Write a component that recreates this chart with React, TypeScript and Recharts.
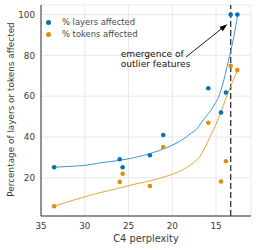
import React from 'react';
import {
  ComposedChart,
  Scatter,
  Line,
  XAxis,
  YAxis,
  CartesianGrid,
  ReferenceLine,
  ReferenceDot,
  Label
} from 'recharts';

// one entry per model
const perplexity = [33.5, 26.0, 25.67, 22.55, 21.03, 15.88, 14.43, 13.86, 13.32, 12.56];
const layersAffected = [25.2, 29.1, 25.2, 31.1, 41.0, 63.9, 52.0, 61.8, 100, 100];
const tokensAffected = [6.1, 18.0, 22.0, 16.0, 35.1, 47.0, 18.2, 28.1, 74.9, 72.8];

// fitted curves
const layersFitX = [33.5, 31.35, 29.8, 28.27, 26.0, 24.46, 22.55, 20.64, 18.74, 17.97, 17.2, 16.45, 15.3, 14.54, 14.1, 13.6, 13.02, 12.5];
const layersFitY = [25.2, 25.7, 26.2, 27.3, 28.6, 29.8, 31.9, 34.8, 39.0, 41.5, 44.0, 48.4, 55.0, 61.5, 68.0, 77.0, 88.0, 100.5];
const tokensFitX = [33.5, 28.3, 26.0, 24.46, 20.64, 18.74, 17.6, 16.83, 15.69, 14.54, 13.78, 13.02, 12.52];
const tokensFitY = [6.1, 12.7, 15.0, 16.7, 20.8, 24.1, 27.3, 30.5, 40.0, 51.0, 60.0, 68.0, 72.8];

const xTicks = [15, 20, 25, 30, 35];
const yTicks = [20, 40, 60, 80, 100];
const emergenceAt = 13.32;

const seriesNames = ['% layers affected', '% tokens affected'];
const BLUE = '#0173b2';
const ORANGE = '#de8f05';
const BLUE_FIT = '#2a8ad0';
const ORANGE_FIT = '#e89a1c';
const TEXT = '#3a3a3a';
const FONT = '"DejaVu Sans", sans-serif';

const toPoints = (xs: number[], ys: number[]) => xs.map((x, i) => ({ x, y: ys[i] }));

const layersPts = toPoints(perplexity, layersAffected);
const tokensPts = toPoints(perplexity, tokensAffected);
const layersFit = toPoints(layersFitX, layersFitY);
const tokensFit = toPoints(tokensFitX, tokensFitY);

const dot = (color: string) => (p: any) => (
  <circle cx={p.cx} cy={p.cy} r={2.3} fill={color} />
);

const Arrow = (props: any) => {
  const { x1, y1, x2, y2 } = props;
  const ang = Math.atan2(y2 - y1, x2 - x1);
  const len = 8;
  const w = 2.8;
  const bx = x2 - len * Math.cos(ang);
  const by = y2 - len * Math.sin(ang);
  const pts = `${x2},${y2} ${bx - w * Math.sin(ang)},${by + w * Math.cos(ang)} ${bx + w * Math.sin(ang)},${by - w * Math.cos(ang)}`;
  return (
    <g>
      <line x1={x1} y1={y1} x2={bx} y2={by} stroke="#000" strokeWidth={0.9} />
      <polygon points={pts} fill="#000" />
    </g>
  );
};

const Note = (p: any) => (
  <text x={p.cx} y={p.cy} fontFamily={FONT} fontSize={9.1} fill="#111">
    <tspan x={p.cx} dy={3.3}>emergence of</tspan>
    <tspan x={p.cx} dy={10.7}>outlier features</tspan>
  </text>
);

export default function App() {
  return (
    <div style={{ position: 'absolute', left: 0, top: 0, width: 257, height: 250, background: '#fff' }}>
      <ComposedChart width={257} height={250} margin={{ top: 5, right: 6, left: 0, bottom: 0 }}>
        <CartesianGrid stroke="#e8e8ef" strokeWidth={1} />
        <XAxis
          dataKey="x"
          type="number"
          domain={[11, 35]}
          reversed
          allowDataOverflow
          ticks={xTicks}
          interval={0}
          height={34}
          tickSize={0}
          tickMargin={7}
          tickLine={false}
          axisLine={{ stroke: '#333', strokeWidth: 1 }}
          tick={{ fontFamily: FONT, fontSize: 8.8, fill: TEXT }}
        >
          <Label
            content={(p: any) => (
              <text
                x={p.viewBox.x + p.viewBox.width / 2}
                y={p.viewBox.y + 25.8}
                textAnchor="middle"
                fontFamily={FONT}
                fontSize={9.8}
                fill={TEXT}
              >
                C4 perplexity
              </text>
            )}
          />
        </XAxis>
        <YAxis
          type="number"
          domain={[1.3, 104.7]}
          allowDataOverflow
          ticks={yTicks}
          interval={0}
          width={41}
          tickSize={0}
          tickMargin={6}
          tickLine={false}
          axisLine={{ stroke: '#333', strokeWidth: 1 }}
          tick={{ fontFamily: FONT, fontSize: 8.8, fill: TEXT }}
        >
          <Label
            content={(p: any) => {
              const cx = 11;
              const cy = p.viewBox.y + p.viewBox.height / 2 - 1;
              return (
                <text
                  x={cx}
                  y={cy}
                  transform={`rotate(-90, ${cx}, ${cy})`}
                  textAnchor="middle"
                  dominantBaseline="central"
                  fontFamily={FONT}
                  fontSize={8.9}
                  fill={TEXT}
                >
                  Percentage of layers or tokens affected
                </text>
              );
            }}
          />
        </YAxis>
        <ReferenceLine x={emergenceAt} stroke="#333" strokeWidth={1.3} strokeDasharray="6 3" />
        <Line data={layersFit} dataKey="y" type="monotone" dot={false} activeDot={false} stroke={BLUE_FIT} strokeWidth={0.9} isAnimationActive={false} />
        <Line data={tokensFit} dataKey="y" type="monotone" dot={false} activeDot={false} stroke={ORANGE_FIT} strokeWidth={0.9} isAnimationActive={false} />
        <Scatter data={layersPts} dataKey="y" name={seriesNames[0]} fill={BLUE} shape={dot(BLUE)} isAnimationActive={false} />
        <Scatter data={tokensPts} dataKey="y" name={seriesNames[1]} fill={ORANGE} shape={dot(ORANGE)} isAnimationActive={false} />
        <ReferenceLine segment={[{ x: 18.43, y: 79.2 }, { x: 13.71, y: 95.3 }]} shape={Arrow} />
        <ReferenceDot x={25.89} y={81.0} r={0} shape={Note} />
      </ComposedChart>
      <div style={{ position: 'absolute', left: 46, top: 16, fontFamily: FONT, fontSize: 8.4, color: '#4a4a4a', lineHeight: '12px' }}>
        {seriesNames.map((name, i) => (
          <div key={name} style={{ display: 'flex', alignItems: 'center', height: 12 }}>
            <span style={{ display: 'inline-block', width: 5, height: 5, borderRadius: '50%', background: i === 0 ? BLUE : ORANGE, marginRight: 11 }} />
            {name}
          </div>
        ))}
      </div>
    </div>
  );
}
